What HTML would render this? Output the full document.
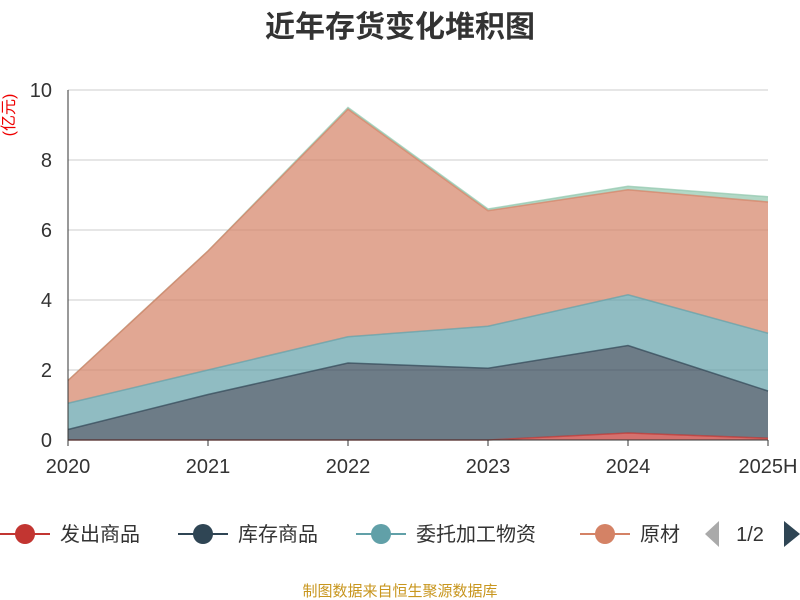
<!DOCTYPE html>
<html><head><meta charset="utf-8"><style>
body{margin:0;background:#fff;font-family:"Liberation Sans","Noto Sans CJK SC",sans-serif;}
#wrap{position:relative;width:800px;height:600px;overflow:hidden;}
</style></head><body>
<div id="wrap">
<svg id="chart" width="800" height="600">
<text x="400" y="37" text-anchor="middle" font-size="30" font-weight="bold" fill="#333">近年存货变化堆积图</text>
<text transform="translate(14,115) rotate(-90)" text-anchor="middle" font-size="16" fill="#e00">(亿元)</text>
<g id="grid"></g><g id="areas"></g><g id="axes"></g><g id="legend"></g>
<text x="400" y="596" text-anchor="middle" font-size="15" fill="#c8961e">制图数据来自恒生聚源数据库</text>
</svg>
</div>
<script>
const categories=["2020","2021","2022","2023","2024","2025H"];
const seriesNames=["发出商品","库存商品","委托加工物资","原材料","其他"];
const fachu=[0,0,0,0,0.2,0.05];
const kucun=[0.3,1.3,2.2,2.05,2.5,1.35];
const weituo=[0.75,0.7,0.75,1.2,1.45,1.65];
const yuancailiao=[0.65,3.4,6.5,3.3,3.0,3.75];
const qita=[0,0,0.05,0.05,0.1,0.15];
const yTicks=[0,2,4,6,8,10];
const colors=["#c23531","#2f4554","#61a0a8","#d48265","#91c7ae"];
const NS="http://www.w3.org/2000/svg";
const x=i=>68+i*140, y=v=>440-v*35;
function mk(t,a,p){const e=document.createElementNS(NS,t);for(const k in a)e.setAttribute(k,a[k]);p.appendChild(e);return e;}
const grid=document.getElementById('grid');
yTicks.forEach(t=>{
 const l=mk('line',{x1:68,x2:768,y1:y(t),y2:y(t),stroke:t===0?'#333':'#ccc','stroke-width':1},grid);
 
 
 const tx=mk('text',{x:52,y:y(t)+7,'text-anchor':'end','font-size':20,fill:'#333'},grid);tx.textContent=t;
 
 
});
const all=[fachu,kucun,weituo,yuancailiao,qita];
let base=categories.map(()=>0);
const layers=[];
all.forEach((s)=>{const top=base.map((b,i)=>b+s[i]);layers.push([base,top]);base=top;});
const ag=document.getElementById('areas');
for(let k=layers.length-1;k>=0;k--){
 const [b,t]=layers[k];
 let d='M'+t.map((v,i)=>x(i)+','+y(v)).join(' L');
 for(let i=b.length-1;i>=0;i--)d+=' L'+x(i)+','+y(b[i]);
 d+='Z';
 const p=mk('path',{d:d,fill:colors[k],'fill-opacity':0.7,stroke:'none'},ag);
 
 
 const ln=mk('polyline',{points:t.map((v,i)=>x(i)+','+y(v)).join(' '),fill:'none',stroke:colors[k],'stroke-width':1.5,'stroke-opacity':0.7},ag);
 
 
}
const ax=document.getElementById('axes');
const yl=mk('line',{x1:68,x2:68,y1:90,y2:440,stroke:'#333'},ax);


const xl=mk('line',{x1:68,x2:768,y1:440,y2:440,stroke:'#333'},ax);


categories.forEach((c,i)=>{
 const tk=mk('line',{x1:x(i),x2:x(i),y1:440,y2:446,stroke:'#333'},ax);
 
 
 const tx=mk('text',{x:x(i),y:473,'text-anchor':'middle','font-size':20,fill:'#333'},ax);tx.textContent=c;
 
 
});
const lg=document.getElementById('legend');
const lx=[0,178,356,580];
["发出商品","库存商品","委托加工物资","原材"].forEach((n,i)=>{
 const g=mk('g',{},lg);
 
 
 mk('line',{x1:lx[i],x2:lx[i]+50,y1:534,y2:534,stroke:colors[i],'stroke-width':2},g);
 mk('circle',{cx:lx[i]+25,cy:534,r:10,fill:colors[i]},g);
 const t=mk('text',{x:lx[i]+60,y:541,'font-size':20,fill:'#333'},g);t.textContent=n;
});
const pl=mk('path',{d:'M705,534 L719,521 L719,547Z',fill:'#aaa'},lg);


const pt=mk('text',{x:750,y:541,'text-anchor':'middle','font-size':20,fill:'#333'},lg);pt.textContent='1/2';


const pn=mk('path',{d:'M800,534 L784,521 L784,547Z',fill:'#2f4554'},lg);


</script>
</body></html>
